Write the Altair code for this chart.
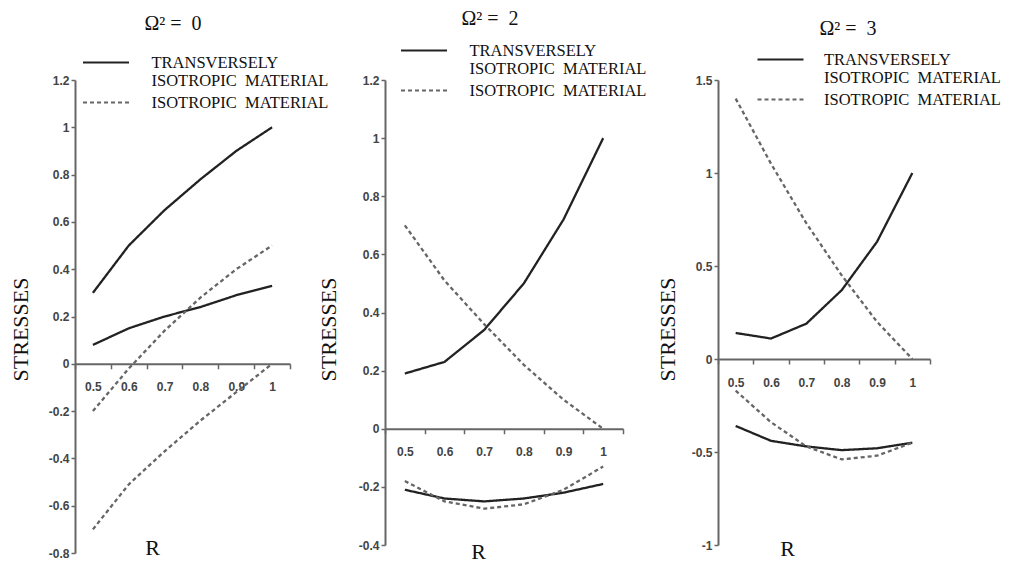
import altair as alt
import pandas as pd

# R positions along the ring
R = [0.5, 0.6, 0.7, 0.8, 0.9, 1.0]

TRANS = "TRANSVERSELY ISOTROPIC MATERIAL"
ISO = "ISOTROPIC MATERIAL"

# Omega^2 = 0
t0_a = [0.30, 0.50, 0.65, 0.78, 0.90, 1.00]
t0_b = [0.08, 0.15, 0.20, 0.24, 0.29, 0.33]
i0_a = [-0.20, -0.02, 0.14, 0.28, 0.40, 0.50]
i0_b = [-0.70, -0.51, -0.37, -0.24, -0.12, 0.00]

# Omega^2 = 2
t2_a = [0.19, 0.23, 0.34, 0.50, 0.72, 1.00]
t2_b = [-0.21, -0.24, -0.25, -0.24, -0.22, -0.19]
i2_a = [0.70, 0.51, 0.36, 0.22, 0.10, 0.00]
i2_b = [-0.18, -0.25, -0.275, -0.26, -0.21, -0.13]

# Omega^2 = 3
t3_a = [0.14, 0.11, 0.19, 0.37, 0.63, 1.00]
t3_b = [-0.36, -0.44, -0.47, -0.49, -0.48, -0.45]
i3_a = [1.40, 1.05, 0.73, 0.45, 0.20, 0.00]
i3_b = [-0.17, -0.34, -0.47, -0.54, -0.52, -0.45]

X_TICKS = [round(0.45 + 0.05 * i, 2) for i in range(13)]

SERIF = "Liberation Serif"
SANS = "Liberation Sans"
ISO_LABEL = "ISOTROPIC\u00a0\u00a0MATERIAL"


def frame(series):
    rows = []
    for material, curve, vals in series:
        for r, v in zip(R, vals):
            rows.append({"R": r, "stress": v, "material": material, "curve": curve})
    return pd.DataFrame(rows)


def panel(df, title, ydom, ystep, width, height, legend_x, legend_y, label_off,
          title_dx, title_dy, r_x, r_y, s_x, s_y):
    n = int(round((ydom[1] - ydom[0]) / ystep))
    yvals = [round(ydom[0] + ystep * i, 2) for i in range(n + 1)]
    zero_off = -height * (0 - ydom[0]) / (ydom[1] - ydom[0])

    xaxis = alt.Axis(
        values=X_TICKS,
        labelExpr="round(datum.value*20) % 2 == 0 ? format(datum.value, '.1~f') : ''",
        tickOpacity={"condition": {"test": "round(datum.value*20) % 2 == 0", "value": 0}, "value": 1},
        offset=zero_off,
        grid=False,
        domainColor="#666", domainWidth=2,
        tickColor="#666", tickWidth=1.5, tickSize=5,
        labelFont=SANS, labelFontWeight="bold", labelFontSize=12, labelColor="#444",
        labelPadding=13, labelFlush=False, labelOverlap=False,
        title="R", titleFont=SERIF, titleFontSize=22, titleFontWeight="normal",
        titleColor="#111", titleX=r_x, titleY=r_y,
        titleAlign="center", titleBaseline="alphabetic",
    )
    yaxis = alt.Axis(
        values=yvals,
        format=".1~f",
        labelExpr="replace(datum.label, '\u2212', '-')",
        grid=False,
        domainColor="#666", domainWidth=2,
        tickColor="#666", tickWidth=1.5, tickSize=4,
        labelFont=SANS, labelFontWeight="bold", labelFontSize=12, labelColor="#444",
        labelPadding=2,
        title="STRESSES", titleFont=SERIF, titleFontSize=22, titleFontWeight="normal",
        titleColor="#111", titleAngle=-90, titleX=s_x, titleY=s_y,
        titleAlign="center", titleBaseline="middle",
    )
    legend = alt.Legend(
        orient="none", legendX=legend_x, legendY=legend_y, title=None,
        symbolType="M-2,0H2", symbolSize=529, symbolStrokeWidth=2,
        labelFont=SERIF, labelFontSize=16.5, labelColor="#111", labelLimit=400,
        labelOffset=label_off, rowPadding=-5, padding=0,
        labelExpr="datum.label == '" + TRANS + "' ? ['TRANSVERSELY', '" + ISO_LABEL + "'] : '" + ISO_LABEL + "'",
    )
    return alt.Chart(df).mark_line(strokeWidth=2.3).encode(
        x=alt.X("R:Q", scale=alt.Scale(domain=[0.45, 1.05], nice=False, zero=False), axis=xaxis),
        y=alt.Y("stress:Q", scale=alt.Scale(domain=ydom, nice=False, zero=False), axis=yaxis),
        strokeDash=alt.StrokeDash("material:N", scale=alt.Scale(domain=[TRANS, ISO], range=[[1, 0], [4, 3]]), legend=legend),
        color=alt.Color("material:N", scale=alt.Scale(domain=[TRANS, ISO], range=["#222222", "#666666"]), legend=legend),
        detail="curve:N",
    ).properties(
        width=width, height=height,
        title=alt.Title(title, font=SERIF, fontSize=20, fontWeight="normal", color="#111",
                        anchor="middle", frame="group", dx=title_dx, dy=title_dy, offset=4),
    )


df0 = frame([(TRANS, "a", t0_a), (TRANS, "b", t0_b), (ISO, "c", i0_a), (ISO, "d", i0_b)])
df2 = frame([(TRANS, "a", t2_a), (TRANS, "b", t2_b), (ISO, "c", i2_a), (ISO, "d", i2_b)])
df3 = frame([(TRANS, "a", t3_a), (TRANS, "b", t3_b), (ISO, "c", i3_a), (ISO, "d", i3_b)])

p1 = panel(df0, "\u03a9\u00b2 = \u00a00", [-0.8, 1.2], 0.2, 215, 473, 18.5, -30, 33,
           -9.5, -12.5, 77, 191, -55, 249)
p2 = panel(df2, "\u03a9\u00b2 = \u00a02", [-0.4, 1.2], 0.2, 238, 465, 26.5, -42, 33,
           -14, -5.5, 93, 130, -57, 249)
p3 = panel(df3, "\u03a9\u00b2 = \u00a03", [-1.0, 1.5], 0.5, 212, 465, 50, -33, 31,
           24, -4.5, 69, 196, -51, 249)

chart = alt.hconcat(p1, p2, p3, spacing=95, bounds="flush").resolve_scale(
    x="independent", y="independent", strokeDash="independent", color="independent"
).configure_view(stroke=None).properties(
    padding={"left": 1, "top": 0, "right": 0, "bottom": 0}, background="white"
)

chart.save("out.html", embed_options={"renderer": "svg", "actions": False})
